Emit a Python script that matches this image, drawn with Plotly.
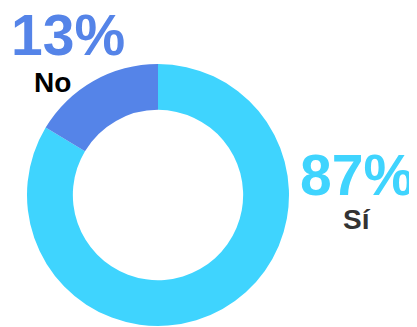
import plotly.graph_objects as go

labels = ["Sí", "No"]
# slice sizes as drawn in the picture (the blue arc spans ~59 degrees)
values = [83.6, 16.4]
# percentages printed next to the ring
pct_text = ["87%", "13%"]
colors = ["#3FD4FE", "#5584E8"]

W, H = 417, 327
OFF = 8  # page body margin offsets the figure in the screenshot
FONT = "Liberation Sans, Arial, sans-serif"


def px_x(x):
    return (x - OFF) / W


def px_y(y):
    return 1 - (y - OFF) / H


cx, cy, r = 158, 195, 131

fig = go.Figure(go.Pie(
    labels=labels,
    values=values,
    hole=0.65,
    sort=False,
    direction="clockwise",
    rotation=0,
    textinfo="none",
    marker=dict(colors=colors, line=dict(width=0)),
    domain=dict(x=[px_x(cx - r), px_x(cx + r)], y=[px_y(cy + r), px_y(cy - r)]),
    showlegend=False,
))

# big percentage + label next to each slice
spots = {
    "No": dict(p=(68, 35), l=(52, 82), pc="#5584E8", lc="#000000"),
    "Sí": dict(p=(357, 175), l=(357, 219), pc="#3FD4FE", lc="#333333"),
}
for lab, txt in zip(labels, pct_text):
    s = spots[lab]
    fig.add_annotation(x=px_x(s["p"][0]), y=px_y(s["p"][1]), xref="paper", yref="paper",
                       xanchor="center", yanchor="middle",
                       text=f"<b>{txt}</b>", showarrow=False,
                       font=dict(family=FONT, size=57, color=s["pc"]))
    fig.add_annotation(x=px_x(s["l"][0]), y=px_y(s["l"][1]), xref="paper", yref="paper",
                       xanchor="center", yanchor="middle",
                       text=f"<b>{lab}</b>", showarrow=False,
                       font=dict(family=FONT, size=28, color=s["lc"]))

fig.update_layout(
    width=W, height=H,
    margin=dict(l=0, r=0, t=0, b=0),
    paper_bgcolor="white",
    plot_bgcolor="white",
)

fig.write_html("out.html")
